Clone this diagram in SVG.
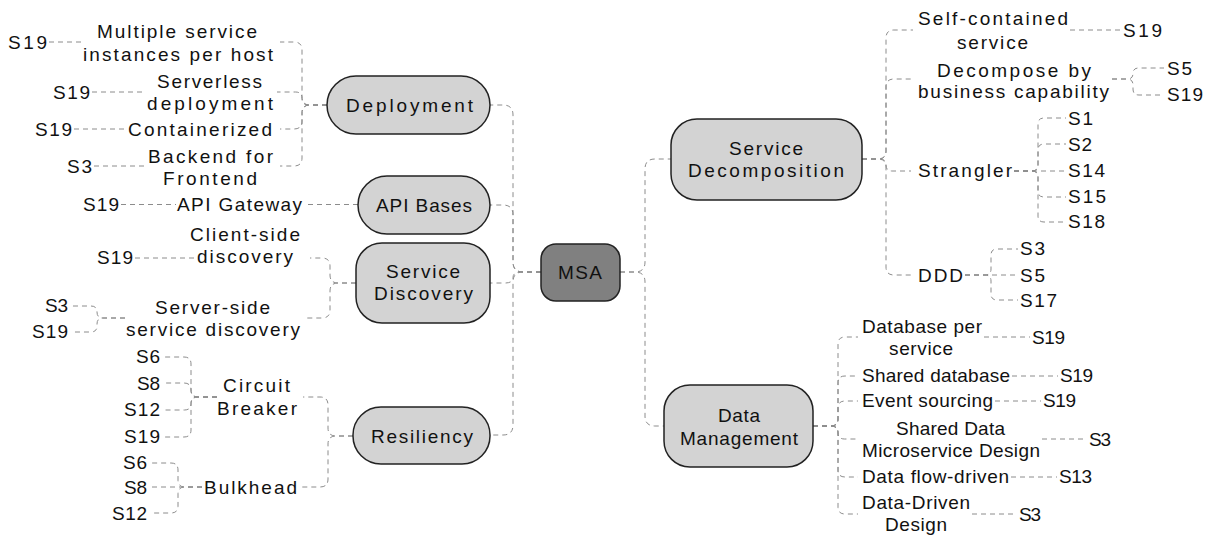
<svg xmlns="http://www.w3.org/2000/svg" width="1215" height="539" viewBox="0 0 1215 539">
  <style>
    .node { fill: #d3d3d3; stroke: #222; stroke-width: 1.5; }
    .root { fill: #808080; stroke: #222; stroke-width: 1.5; }
    .lbl { font-family: "Liberation Sans", Arial, sans-serif; font-size: 19px; fill: #111; }
    .links path { fill: none; stroke: #8c8c8c; stroke-width: 1; stroke-dasharray: 5 4; }
  </style>
  <rect width="1215" height="539" fill="#fff"/>

  <!-- connectors -->
  <g id="connectors" class="links">
    <!-- MSA to its left-hand branches -->
    <path d="M541,272 H523 Q513,272 513,262 V115 Q513,105 503,105 H490"/>
    <path d="M541,272 H523 Q513,272 513,262 V215 Q513,205 503,205 H490"/>
    <path d="M541,272 H521 Q513,272 513,277.5 Q513,283 505,283 H490"/>
    <path d="M541,272 H523 Q513,272 513,282 V425 Q513,435 503,435 H490"/>
    <!-- MSA to its right-hand branches -->
    <path d="M620,272 H635 Q645,272 645,262 V169 Q645,159 655,159 H671"/>
    <path d="M620,272 H635 Q645,272 645,282 V416 Q645,426 655,426 H664"/>

    <!-- Deployment -->
    <path d="M327,105 H310 Q302,105 302,97 V50 Q302,42 294,42 H280"/>
    <path d="M327,105 H308.5 Q302,105 302,98.5 Q302,92 295.5,92 H277"/>
    <path d="M327,105 H310 Q302,105 302,113 V121 Q302,129 294,129 H280"/>
    <path d="M327,105 H310 Q302,105 302,113 V158 Q302,166 294,166 H280"/>
    <path d="M49,42 H84"/>
    <path d="M92,92 H146"/>
    <path d="M74,129 H127"/>
    <path d="M94,166 H147"/>

    <!-- API Bases -->
    <path d="M358,204.5 H304"/>
    <path d="M121,204.5 H176"/>

    <!-- Service Discovery -->
    <path d="M356,283 H338 Q330,283 330,275 V266 Q330,258 322,258 H310"/>
    <path d="M356,283 H338 Q330,283 330,291 V310 Q330,318 322,318 H307"/>
    <path d="M135,258 H196"/>
    <path d="M125,318 H103 Q97,318 97,312 Q97,306 91,306 H71"/>
    <path d="M125,318 H103 Q97,318 97,324 V326 Q97,332 91,332 H71"/>

    <!-- Resiliency -->
    <path d="M353,436 H336 Q328,436 328,428 V405 Q328,397 320,397 H303"/>
    <path d="M353,436 H336 Q328,436 328,444 V479 Q328,487 320,487 H300"/>
    <path d="M217,397 H198 Q191,397 191,390 V364 Q191,357 184,357 H164"/>
    <path d="M217,397 H198 Q191,397 191,390 Q191,383 184,383 H164"/>
    <path d="M217,397 H197.5 Q191,397 191,403.5 Q191,410 184.5,410 H164"/>
    <path d="M217,397 H198 Q191,397 191,404 V430 Q191,437 184,437 H164"/>
    <path d="M202,487 H185 Q178,487 178,480 V470 Q178,463 171,463 H151"/>
    <path d="M202,487 H151"/>
    <path d="M202,487 H185 Q178,487 178,494 V506 Q178,513 171,513 H151"/>

    <!-- Service Decomposition -->
    <path d="M862,159 H878 Q886,159 886,151 V38 Q886,30 894,30 H913"/>
    <path d="M862,159 H878 Q886,159 886,151 V87 Q886,79 894,79 H913"/>
    <path d="M862,159 H880 Q886,159 886,165 Q886,171 892,171 H911"/>
    <path d="M862,159 H878 Q886,159 886,167 V267 Q886,275 894,275 H914"/>
    <path d="M1070,30 H1121"/>
    <path d="M1112,79 H1127.5 Q1133,79 1133,73.5 Q1133,68 1138.5,68 H1164"/>
    <path d="M1112,79 H1127 Q1133,79 1133,85 V89 Q1133,95 1139,95 H1164"/>
    <path d="M1014,171 H1032 Q1038,171 1038,165 V124 Q1038,118 1044,118 H1066"/>
    <path d="M1014,171 H1032 Q1038,171 1038,165 V150 Q1038,144 1044,144 H1066"/>
    <path d="M1014,171 H1066"/>
    <path d="M1014,171 H1032 Q1038,171 1038,177 V191 Q1038,197 1044,197 H1066"/>
    <path d="M1014,171 H1032 Q1038,171 1038,177 V216 Q1038,222 1044,222 H1066"/>
    <path d="M965,275 H985 Q991,275 991,269 V255 Q991,249 997,249 H1018"/>
    <path d="M965,275 H1018"/>
    <path d="M965,275 H985 Q991,275 991,281 V294 Q991,300 997,300 H1018"/>

    <!-- Data Management -->
    <path d="M813,426 H831 Q838,426 838,419 V344 Q838,337 845,337 H858"/>
    <path d="M813,426 H831 Q838,426 838,419 V383 Q838,376 845,376 H858"/>
    <path d="M813,426 H831 Q838,426 838,419 V408 Q838,401 845,401 H858"/>
    <path d="M813,426 H831.5 Q838,426 838,432.5 Q838,439 844.5,439 H858"/>
    <path d="M813,426 H831 Q838,426 838,433 V470 Q838,477 845,477 H858"/>
    <path d="M813,426 H831 Q838,426 838,433 V507 Q838,514 845,514 H858"/>
    <path d="M984,337 H1030"/>
    <path d="M1012,376 H1058"/>
    <path d="M995,401 H1041"/>
    <path d="M1042,439 H1087"/>
    <path d="M1011,477 H1057"/>
    <path d="M972,514 H1017"/>
  </g>

  <!-- root -->
  <g id="msa">
    <rect class="root" x="541" y="244" width="79" height="57" rx="15"/>
    <text class="lbl" x="558" y="279" textLength="44" lengthAdjust="spacing">MSA</text>
  </g>

  <!-- left branches -->
  <g id="deployment">
    <rect class="node" x="327" y="76" width="163" height="58" rx="29"/>
    <text class="lbl" x="346" y="112" textLength="127" lengthAdjust="spacing">Deployment</text>
  </g>
  <g id="deployment-leaves">
    <text class="lbl" x="97" y="38" textLength="160" lengthAdjust="spacing">Multiple service</text>
    <text class="lbl" x="83" y="61" textLength="190" lengthAdjust="spacing">instances per host</text>
    <text class="lbl" x="8" y="49" textLength="39" lengthAdjust="spacing">S19</text>
    <text class="lbl" x="157" y="88" textLength="105" lengthAdjust="spacing">Serverless</text>
    <text class="lbl" x="147" y="110" textLength="126" lengthAdjust="spacing">deployment</text>
    <text class="lbl" x="53" y="99" textLength="37" lengthAdjust="spacing">S19</text>
    <text class="lbl" x="128" y="136" textLength="144" lengthAdjust="spacing">Containerized</text>
    <text class="lbl" x="35" y="136" textLength="37" lengthAdjust="spacing">S19</text>
    <text class="lbl" x="148" y="163" textLength="125" lengthAdjust="spacing">Backend for</text>
    <text class="lbl" x="163" y="185" textLength="94" lengthAdjust="spacing">Frontend</text>
    <text class="lbl" x="67" y="173" textLength="25" lengthAdjust="spacing">S3</text>
  </g>

  <g id="api-bases">
    <rect class="node" x="358" y="176" width="132" height="58" rx="29"/>
    <text class="lbl" x="376" y="212" textLength="96" lengthAdjust="spacing">API Bases</text>
  </g>
  <g id="api-bases-leaves">
    <text class="lbl" x="177" y="211" textLength="125" lengthAdjust="spacing">API Gateway</text>
    <text class="lbl" x="83" y="211" textLength="36" lengthAdjust="spacing">S19</text>
  </g>

  <g id="service-discovery">
    <rect class="node" x="356" y="243" width="134" height="80" rx="26"/>
    <text class="lbl" x="386" y="278" textLength="74" lengthAdjust="spacing">Service</text>
    <text class="lbl" x="374" y="300" textLength="99" lengthAdjust="spacing">Discovery</text>
  </g>
  <g id="service-discovery-leaves">
    <text class="lbl" x="190" y="241" textLength="110" lengthAdjust="spacing">Client-side</text>
    <text class="lbl" x="197" y="263" textLength="96" lengthAdjust="spacing">discovery</text>
    <text class="lbl" x="97" y="264" textLength="36" lengthAdjust="spacing">S19</text>
    <text class="lbl" x="155" y="314" textLength="115" lengthAdjust="spacing">Server-side</text>
    <text class="lbl" x="126" y="336" textLength="174" lengthAdjust="spacing">service discovery</text>
    <text class="lbl" x="45" y="312" textLength="23" lengthAdjust="spacing">S3</text>
    <text class="lbl" x="32" y="338" textLength="36" lengthAdjust="spacing">S19</text>
  </g>

  <g id="resiliency">
    <rect class="node" x="353" y="407" width="137" height="57" rx="28"/>
    <text class="lbl" x="371" y="443" textLength="102" lengthAdjust="spacing">Resiliency</text>
  </g>
  <g id="resiliency-leaves">
    <text class="lbl" x="223" y="392" textLength="67" lengthAdjust="spacing">Circuit</text>
    <text class="lbl" x="217" y="415" textLength="80" lengthAdjust="spacing">Breaker</text>
    <text class="lbl" x="136" y="363" textLength="24" lengthAdjust="spacing">S6</text>
    <text class="lbl" x="137" y="390" textLength="23" lengthAdjust="spacing">S8</text>
    <text class="lbl" x="124" y="416" textLength="36" lengthAdjust="spacing">S12</text>
    <text class="lbl" x="124" y="443" textLength="36" lengthAdjust="spacing">S19</text>
    <text class="lbl" x="204" y="494" textLength="93" lengthAdjust="spacing">Bulkhead</text>
    <text class="lbl" x="123" y="469" textLength="24" lengthAdjust="spacing">S6</text>
    <text class="lbl" x="124" y="494" textLength="23" lengthAdjust="spacing">S8</text>
    <text class="lbl" x="112" y="520" textLength="35" lengthAdjust="spacing">S12</text>
  </g>

  <!-- right branches -->
  <g id="service-decomposition">
    <rect class="node" x="671" y="119" width="191" height="81" rx="26"/>
    <text class="lbl" x="729" y="155" textLength="74" lengthAdjust="spacing">Service</text>
    <text class="lbl" x="688" y="177" textLength="156" lengthAdjust="spacing">Decomposition</text>
  </g>
  <g id="service-decomposition-leaves">
    <text class="lbl" x="918" y="25" textLength="150" lengthAdjust="spacing">Self-contained</text>
    <text class="lbl" x="957" y="49" textLength="71" lengthAdjust="spacing">service</text>
    <text class="lbl" x="1123" y="37" textLength="39" lengthAdjust="spacing">S19</text>
    <text class="lbl" x="937" y="77" textLength="154" lengthAdjust="spacing">Decompose by</text>
    <text class="lbl" x="918" y="98" textLength="191" lengthAdjust="spacing">business capability</text>
    <text class="lbl" x="1167" y="75" textLength="25" lengthAdjust="spacing">S5</text>
    <text class="lbl" x="1167" y="101" textLength="36" lengthAdjust="spacing">S19</text>
    <text class="lbl" x="918" y="177" textLength="94" lengthAdjust="spacing">Strangler</text>
    <text class="lbl" x="1068" y="125" textLength="25" lengthAdjust="spacing">S1</text>
    <text class="lbl" x="1068" y="151" textLength="24" lengthAdjust="spacing">S2</text>
    <text class="lbl" x="1068" y="177" textLength="37" lengthAdjust="spacing">S14</text>
    <text class="lbl" x="1068" y="203" textLength="38" lengthAdjust="spacing">S15</text>
    <text class="lbl" x="1068" y="228" textLength="37" lengthAdjust="spacing">S18</text>
    <text class="lbl" x="918" y="282" textLength="45" lengthAdjust="spacing">DDD</text>
    <text class="lbl" x="1020" y="255" textLength="25" lengthAdjust="spacing">S3</text>
    <text class="lbl" x="1020" y="282" textLength="25" lengthAdjust="spacing">S5</text>
    <text class="lbl" x="1020" y="307" textLength="37" lengthAdjust="spacing">S17</text>
  </g>

  <g id="data-management">
    <rect class="node" x="664" y="385" width="149" height="82" rx="26"/>
    <text class="lbl" x="718" y="422" textLength="42" lengthAdjust="spacing">Data</text>
    <text class="lbl" x="680" y="445" textLength="118" lengthAdjust="spacing">Management</text>
  </g>
  <g id="data-management-leaves">
    <text class="lbl" x="862" y="333" textLength="120" lengthAdjust="spacing">Database per</text>
    <text class="lbl" x="889" y="355" textLength="64" lengthAdjust="spacing">service</text>
    <text class="lbl" x="1032" y="344" textLength="33" lengthAdjust="spacing">S19</text>
    <text class="lbl" x="862" y="382" textLength="148" lengthAdjust="spacing">Shared database</text>
    <text class="lbl" x="1060" y="382" textLength="33" lengthAdjust="spacing">S19</text>
    <text class="lbl" x="862" y="407" textLength="131" lengthAdjust="spacing">Event sourcing</text>
    <text class="lbl" x="1043" y="407" textLength="33" lengthAdjust="spacing">S19</text>
    <text class="lbl" x="896" y="435" textLength="109" lengthAdjust="spacing">Shared Data</text>
    <text class="lbl" x="862" y="457" textLength="178" lengthAdjust="spacing">Microservice Design</text>
    <text class="lbl" x="1089" y="446" textLength="22" lengthAdjust="spacing">S3</text>
    <text class="lbl" x="862" y="483" textLength="147" lengthAdjust="spacing">Data flow-driven</text>
    <text class="lbl" x="1059" y="483" textLength="33" lengthAdjust="spacing">S13</text>
    <text class="lbl" x="862" y="509" textLength="108" lengthAdjust="spacing">Data-Driven</text>
    <text class="lbl" x="885" y="531" textLength="62" lengthAdjust="spacing">Design</text>
    <text class="lbl" x="1019" y="521" textLength="22" lengthAdjust="spacing">S3</text>
  </g>
</svg>
